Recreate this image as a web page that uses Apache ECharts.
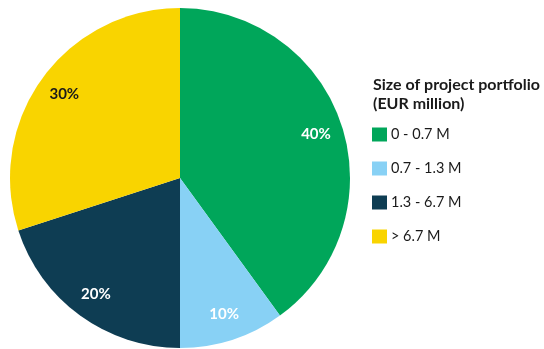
<!DOCTYPE html>
<html>
<head>
<meta charset="utf-8">
<script src="https://cdn.jsdelivr.net/npm/echarts@6/dist/echarts.min.js"></script>
<style>
  html, body { margin: 0; padding: 0; background: #ffffff; }
  #chart { width: 544px; height: 349px; }
</style>
</head>
<body>
<div id="chart"></div>
<script>
// Portfolio size bands and their share of projects (%)
const categories = ['0 - 0.7 M', '0.7 - 1.3 M', '1.3 - 6.7 M', '> 6.7 M'];
const shares = [40, 10, 20, 30];
const colors = ['#00A65A', '#88D1F5', '#0E3D53', '#F9D400'];
const labelColors = ['#ffffff', '#ffffff', '#ffffff', '#1a1a1a'];
const legendTitle = 'Size of project portfolio\n(EUR million)';

const FONT = 'Lato, "Noto Sans", sans-serif';

const sliceData = categories.map((name, i) => ({
  name: name,
  value: shares[i],
  itemStyle: { color: colors[i] }
}));

// Transparent ring used only to place the percentage labels near the rim
const labelData = categories.map((name, i) => ({
  name: name,
  value: shares[i],
  itemStyle: { color: 'rgba(0,0,0,0)' },
  label: { color: labelColors[i] }
}));

const chart = echarts.init(document.getElementById('chart'), null, { renderer: 'canvas' });
chart.setOption({
  animation: false,
  backgroundColor: '#ffffff',
  title: {
    text: legendTitle,
    left: 373,
    top: 75,
    padding: 0,
    textStyle: {
      fontFamily: FONT,
      fontSize: 16,
      fontWeight: 'bold',
      color: '#1a1a1a',
      lineHeight: 19
    }
  },
  legend: {
    orient: 'vertical',
    left: 372,
    top: 127,
    padding: 0,
    icon: 'rect',
    itemWidth: 15,
    itemHeight: 14,
    itemGap: 19,
    selectedMode: false,
    data: categories,
    textStyle: {
      fontFamily: FONT,
      fontSize: 14.5,
      color: '#1a1a1a',
      padding: [0, 0, 0, -1]
    }
  },
  series: [
    {
      type: 'pie',
      center: [180, 178],
      radius: [0, 170],
      startAngle: 90,
      clockwise: true,
      silent: true,
      label: { show: false },
      labelLine: { show: false },
      data: sliceData
    },
    {
      type: 'pie',
      center: [180, 178],
      radius: [110, 170],
      startAngle: 90,
      clockwise: true,
      silent: true,
      legendHoverLink: false,
      label: {
        show: true,
        position: 'inside',
        formatter: '{c}%',
        fontFamily: FONT,
        fontSize: 15,
        fontWeight: 'bold'
      },
      labelLine: { show: false },
      data: labelData
    }
  ]
});
</script>
</body>
</html>
